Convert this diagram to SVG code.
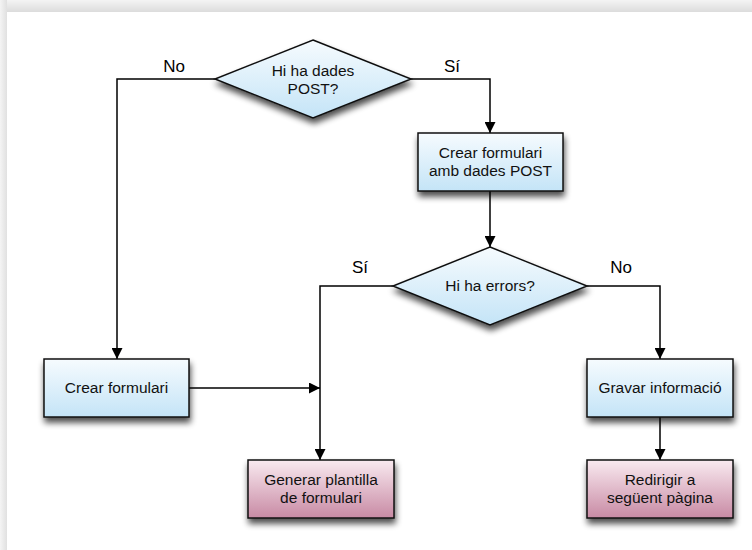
<svg xmlns="http://www.w3.org/2000/svg" width="752" height="550" viewBox="0 0 752 550">
<defs>
<linearGradient id="blue" x1="0" y1="0" x2="0" y2="1"><stop offset="0" stop-color="#f6fbfe"/><stop offset="1" stop-color="#c4e4f7"/></linearGradient>
<linearGradient id="pink" x1="0" y1="0" x2="0" y2="1"><stop offset="0" stop-color="#f9eaf0"/><stop offset="1" stop-color="#c88aa4"/></linearGradient>
<linearGradient id="topbar" x1="0" y1="0" x2="0" y2="1"><stop offset="0" stop-color="#f4f4f4"/><stop offset="1" stop-color="#dcdcdc"/></linearGradient>
<linearGradient id="leftbar" x1="0" y1="0" x2="1" y2="0"><stop offset="0" stop-color="#f4f4f4"/><stop offset="1" stop-color="#e0e0e0"/></linearGradient>
<filter id="sh" x="-20%" y="-20%" width="140%" height="160%"><feGaussianBlur in="SourceAlpha" stdDeviation="3"/><feOffset dx="1" dy="5" result="b"/><feComponentTransfer><feFuncA type="linear" slope="0.7"/></feComponentTransfer><feMerge><feMergeNode/><feMergeNode in="SourceGraphic"/></feMerge></filter>
<marker id="ah" viewBox="0 0 10 10" refX="10" refY="5" markerWidth="11" markerHeight="11" markerUnits="userSpaceOnUse" orient="auto"><path d="M0,0 L10,5 L0,10 z" fill="#000"/></marker>
</defs>
<style>
.box{stroke:#111;stroke-width:1.5}
.t{font-family:"Liberation Sans",Arial,sans-serif;font-size:15.5px;fill:#111;text-anchor:middle}
.lab{font-family:"Liberation Sans",Arial,sans-serif;font-size:17px;fill:#000;text-anchor:middle}
.e{fill:none;stroke:#000;stroke-width:1.5;marker-end:url(#ah)}
</style>
<rect x="0" y="0" width="752" height="550" fill="#ececec"/>
<rect x="0" y="0" width="752" height="12" fill="url(#topbar)"/>
<rect x="0" y="0" width="7" height="550" fill="url(#leftbar)"/>
<rect x="7" y="12" width="745" height="538" fill="#ffffff"/>

<g id="connectors">
<polyline class="e" points="215,79 117,79 117,359"/>
<polyline class="e" points="411,79 490,79 490,133"/>
<polyline class="e" points="490,191 490,247"/>
<polyline class="e" points="393,286 320,286 320,460"/>
<polyline class="e" points="587,286 660,286 660,359"/>
<polyline class="e" points="189,388 320,388"/>
<polyline class="e" points="660,417 660,460"/>
<text class="lab" x="174" y="72">No</text>
<text class="lab" x="452" y="72">Sí</text>
<text class="lab" x="360" y="273">Sí</text>
<text class="lab" x="621" y="273">No</text>
</g>

<g id="d1">
<polygon class="box" filter="url(#sh)" points="313,40 411,79 313,118 215,79" fill="url(#blue)"/>
<text class="t" x="313" y="76">Hi ha dades</text>
<text class="t" x="313" y="94">POST?</text>
</g>
<g id="a">
<rect class="box" filter="url(#sh)" x="418" y="133" width="145" height="58" fill="url(#blue)"/>
<text class="t" x="490.5" y="158">Crear formulari</text>
<text class="t" x="490.5" y="176">amb dades POST</text>
</g>
<g id="d2">
<polygon class="box" filter="url(#sh)" points="490,247 587,286 490,325 393,286" fill="url(#blue)"/>
<text class="t" x="490" y="291">Hi ha errors?</text>
</g>
<g id="b">
<rect class="box" filter="url(#sh)" x="44" y="359" width="145" height="58" fill="url(#blue)"/>
<text class="t" x="116.5" y="393">Crear formulari</text>
</g>
<g id="c">
<rect class="box" filter="url(#sh)" x="587" y="359" width="146" height="58" fill="url(#blue)"/>
<text class="t" x="660" y="393">Gravar informació</text>
</g>
<g id="d">
<rect class="box" filter="url(#sh)" x="248" y="460" width="146" height="58" fill="url(#pink)"/>
<text class="t" x="321" y="485">Generar plantilla</text>
<text class="t" x="321" y="503">de formulari</text>
</g>
<g id="e">
<rect class="box" filter="url(#sh)" x="587" y="460" width="146" height="58" fill="url(#pink)"/>
<text class="t" x="660" y="485">Redirigir a</text>
<text class="t" x="660" y="503">següent pàgina</text>
</g>
</svg>
